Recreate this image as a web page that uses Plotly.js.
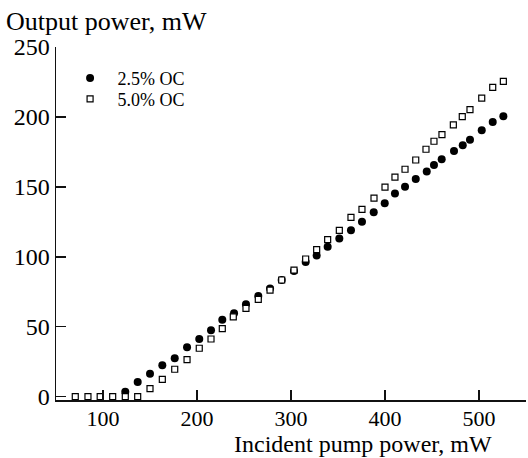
<!DOCTYPE html>
<html>
<head>
<meta charset="utf-8">
<script src="https://cdn.plot.ly/plotly-3.0.1.min.js"></script>
<style>
html,body{margin:0;padding:0;background:#fff;}
#chart{width:528px;height:458px;}
</style>
</head>
<body>
<div id="chart"></div>
<script>
// Series 1: 2.5% OC (filled circles)
var pump25 = [123.7,136.9,150,163.1,176.3,189.4,202.4,214.9,226.9,239.4,252.1,265.2,277.7,290.1,303.2,315.6,327.3,339.0,351.4,363.8,375.5,388.0,399.7,410.6,421.3,432.7,444.4,452.1,460.3,473.4,482.7,490.4,502.9,514.6,525.9];
var out25  = [3.5,10.5,16.4,22.4,27.4,35.3,41.2,47.4,55.0,59.6,66.0,71.9,77.4,83.4,89.8,96.2,101.0,107.1,113.1,119.0,125.0,131.9,138.3,145.3,150.0,155.7,161.0,165.7,169.8,175.7,179.8,183.6,190.5,196.4,200.5];
// Series 2: 5.0% OC (open squares)
var pump50 = [70.5,84,97,110.3,123.7,136.9,150,163.1,176.3,189.4,202.4,214.9,226.9,238.6,252.1,265.2,277.7,290.1,303.2,315.6,327.3,339.0,351.4,363.8,375.5,388.3,400,410.6,421.3,432.7,443.6,452.1,460.6,472.7,482.2,490.4,502.9,514.6,525.9];
var out50  = [0,0,0,0,0,0,5.7,12.4,19.6,26.4,34.6,41.2,48.6,57.1,63.1,69.5,76.2,83.4,90.5,98.4,105.1,112.3,118.9,128.2,133.9,142.0,149.8,156.9,162.6,169.2,176.9,182.6,187.4,194.3,200.2,205.2,213.5,221.1,225.4];
var seriesNames = ['2.5% OC','5.0% OC'];
var xTicks = [100,200,300,400,500];
var yTicks = [0,50,100,150,200,250];
var xTitle = 'Incident pump power, mW';
var yTitle = 'Output power, mW';

var FONT = 'Liberation Serif, Times New Roman, serif';

var traces = [
  {x: pump25, y: out25, name: seriesNames[0], type: 'scatter', mode: 'markers',
   marker: {symbol: 'circle', size: 8, color: '#000'}, legend: 'legend'},
  {x: pump50, y: out50, name: seriesNames[1], type: 'scatter', mode: 'markers',
   marker: {symbol: 'square', size: 6, color: '#fff', line: {color: '#000', width: 1.2}}, legend: 'legend2'}
];

var axisCommon = {
  showgrid: false, zeroline: false, showline: true, linecolor: '#111', linewidth: 1.5,
  ticks: 'inside', ticklen: 10, tickwidth: 1.5, tickcolor: '#111'
};

var legendFont = {family: FONT, size: 18, color: '#000'};

var layout = {
  width: 528, height: 458,
  margin: {l: 56, r: 2, t: 47, b: 58},
  paper_bgcolor: '#fff', plot_bgcolor: '#fff',
  font: {family: FONT, color: '#000'},
  xaxis: Object.assign({}, axisCommon, {range: [50, 550], tickvals: xTicks, ticktext: xTicks.map(String),
    tickfont: {family: FONT, size: 22, color: '#000'}, ticklabelstandoff: -2}),
  yaxis: Object.assign({}, axisCommon, {range: [-2.4, 250], tickvals: yTicks, ticktext: yTicks.map(String),
    tickfont: {family: FONT, size: 24, color: '#000'}}),
  showlegend: true,
  legend: {x: 0.014, y: 0.911, xanchor: 'left', yanchor: 'middle', bgcolor: 'rgba(0,0,0,0)', itemwidth: 45,
           font: legendFont},
  legend2: {x: 0.014, y: 0.852, xanchor: 'left', yanchor: 'middle', bgcolor: 'rgba(0,0,0,0)', itemwidth: 45,
           font: legendFont},
  annotations: [
    {text: yTitle, xref: 'paper', yref: 'paper', x: -0.111, y: 1.071, xanchor: 'left', yanchor: 'middle',
     showarrow: false, font: {family: FONT, size: 26, color: '#000'}},
    {text: xTitle, xref: 'paper', yref: 'paper', x: 0.932, y: -0.1246, xanchor: 'right', yanchor: 'middle',
     showarrow: false, font: {family: FONT, size: 24, color: '#000'}}
  ]
};

Plotly.newPlot('chart', traces, layout, {displayModeBar: false, staticPlot: true});
</script>
</body>
</html>
